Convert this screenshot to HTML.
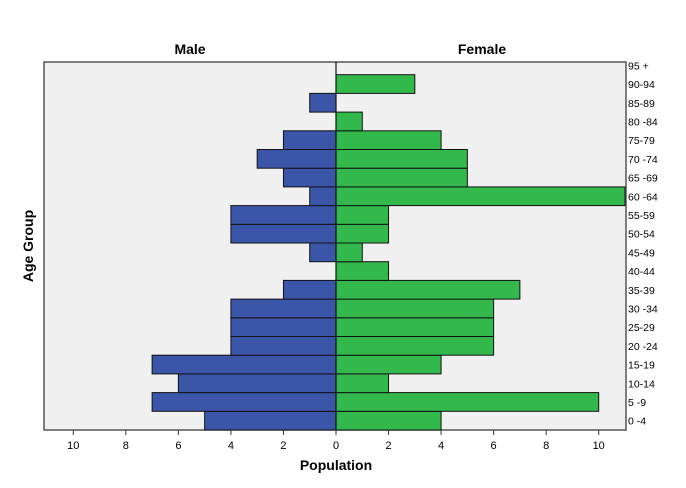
<!DOCTYPE html>
<html><head><meta charset="utf-8"><style>
html,body{margin:0;padding:0;background:#fff;}
svg{display:block;font-family:"Liberation Sans",Arial,sans-serif;}
</style></head><body>
<svg id="chart" width="686" height="488">
<rect x="44" y="62" width="582" height="368" fill="#f0f0f0" stroke="#555" stroke-width="1.5"/>
<g id="bars"></g>
<g id="labels"></g>
<text x="190" y="54" font-size="14" font-weight="bold" text-anchor="middle">Male</text>
<text x="482" y="54" font-size="14" font-weight="bold" text-anchor="middle">Female</text>
<text x="336" y="470" font-size="14" font-weight="bold" text-anchor="middle">Population</text>
<text transform="translate(33,246) rotate(-90)" font-size="14" font-weight="bold" text-anchor="middle">Age Group</text>
</svg>
<script>
const ageGroups = ["0 -4","5 -9","10-14","15-19","20 -24","25-29","30 -34","35-39","40-44","45-49","50-54","55-59","60 -64","65 -69","70 -74","75-79","80 -84","85-89","90-94","95 +"];
const maleValues = [5,7,6,7,4,4,4,2,0,1,4,4,1,2,3,2,0,1,0,0];
const femaleValues = [4,10,2,4,6,6,6,7,2,1,2,2,11,5,5,4,1,0,3,0];
const maleTicks = [10,8,6,4,2,0];
const femaleTicks = [0,2,4,6,8,10];
const NS="http://www.w3.org/2000/svg";
const cx=336, unit=26.27, plotBottom=430, rowH=18.7, plotTop=62;
const xM=v=>cx-v*unit, xF=v=>cx+v*unit;
const rowY=i=>plotBottom-(i+1)*rowH;
const barsG=document.getElementById('bars'), labelsG=document.getElementById('labels');
function mk(tag,attrs,parent){const e=document.createElementNS(NS,tag);for(const k in attrs)e.setAttribute(k,attrs[k]);parent.appendChild(e);return e;}
ageGroups.forEach((g,i)=>{
  const y=rowY(i);
  const yy=Math.max(y,plotTop), h=y+rowH-yy;
  if(maleValues[i]>0){
    const r=mk('rect',{x:xM(maleValues[i]),y:yy,width:maleValues[i]*unit,height:h,fill:'#3b55a9',stroke:'#111','stroke-width':1},barsG);
    
    
  }
  if(femaleValues[i]>0){
    const r=mk('rect',{x:cx,y:yy,width:femaleValues[i]*unit,height:h,fill:'#33b94b',stroke:'#111','stroke-width':1},barsG);
    
    
  }
  const t=mk('text',{x:628,y:y+rowH/2+4,'font-size':10.5},labelsG);
  t.textContent=g;
  
  
});
const c=mk('line',{x1:cx,y1:plotTop,x2:cx,y2:plotBottom,stroke:'#111','stroke-width':1.2},barsG);


function tick(x,v){
  const l=mk('line',{x1:x,y1:plotBottom,x2:x,y2:plotBottom+5,stroke:'#333'},labelsG);
  
  
  const t=mk('text',{x:x,y:plotBottom+19,'font-size':11,'text-anchor':'middle'},labelsG);
  t.textContent=v;
  
  
}
maleTicks.forEach(v=>tick(xM(v),v));
femaleTicks.slice(1).forEach(v=>tick(xF(v),v));
</script>
</body></html>
